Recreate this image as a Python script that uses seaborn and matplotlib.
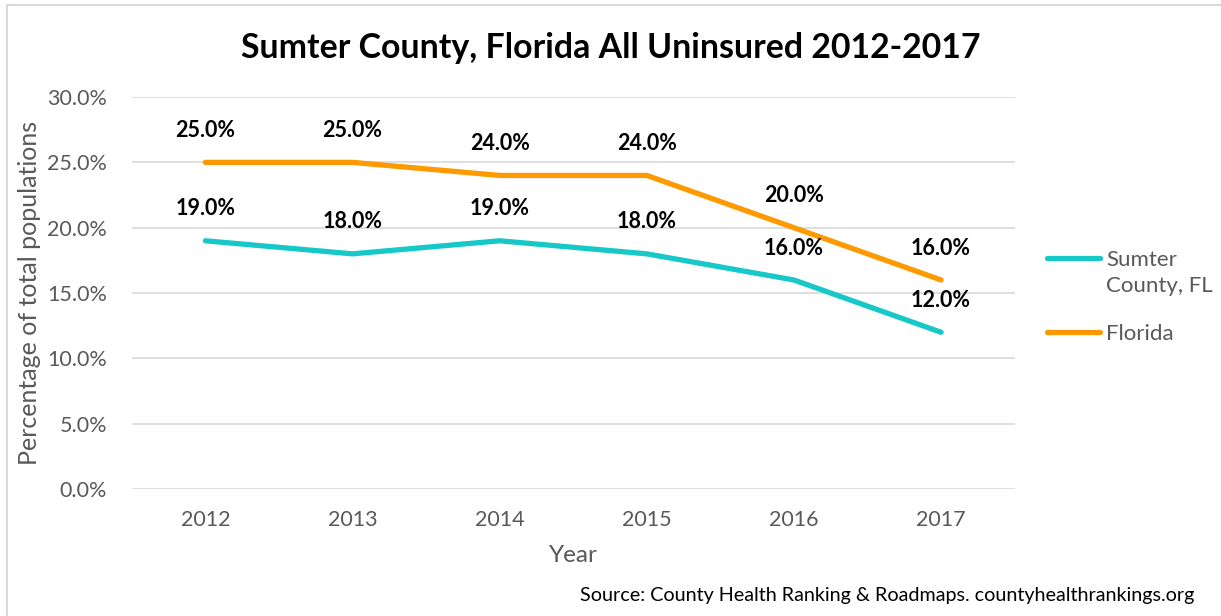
import matplotlib
matplotlib.use("Agg")
import matplotlib.pyplot as plt
import seaborn as sns
import pandas as pd
import numpy as np
from matplotlib.lines import Line2D
from matplotlib.patches import Rectangle
from matplotlib.legend_handler import HandlerLine2D

years = ["2012", "2013", "2014", "2015", "2016", "2017"]
sumter = [19.0, 18.0, 19.0, 18.0, 16.0, 12.0]
florida = [25.0, 25.0, 24.0, 24.0, 20.0, 16.0]
series_names = ["Sumter\nCounty, FL", "Florida"]
yticks = [0, 5, 10, 15, 20, 25, 30]

sns.set_theme(style="white")
plt.rcParams["font.family"] = ["Lato", "DejaVu Sans"]

df = pd.DataFrame({
    "Year": years * 2,
    "Value": sumter + florida,
    "Series": [series_names[0]] * len(years) + [series_names[1]] * len(years),
})

colors = {series_names[0]: "#17C8C8", series_names[1]: "#FF9900"}

fig = plt.figure(figsize=(12.21, 6.16), dpi=100)
ax = fig.add_axes([0.108, 0.206, 0.723, 0.6365])

sns.lineplot(data=df, x="Year", y="Value", hue="Series", palette=colors,
             linewidth=3.8, ax=ax, legend=False, solid_capstyle="round", sort=False)

for name, vals in zip(series_names, [sumter, florida]):
    for i, v in enumerate(vals):
        ax.annotate(f"{v:.1f}%", (i, v), xytext=(0, 23), textcoords="offset points",
                    ha="center", va="center", fontsize=15.5, fontweight="bold", color="black")

ax.set_xlim(-0.5, len(years) - 0.5)
ax.set_ylim(0, 30)
ax.set_yticks(yticks)
ax.set_yticklabels([f"{t:.1f}%" for t in yticks])
ax.grid(axis="y", color="#D9D9D9", linewidth=1.2)
ax.grid(axis="x", visible=False)
for s in ax.spines.values():
    s.set_visible(False)
ax.tick_params(axis="both", length=0, labelsize=15.5, colors="#595959")
ax.tick_params(axis="x", pad=15)
ax.tick_params(axis="y", pad=18)
ax.set_xlabel("Year", fontsize=17.5, color="#595959")
ax.xaxis.set_label_coords(0.5, -0.143)
ax.set_ylabel("Percentage of total populations", fontsize=18, color="#595959")
ax.yaxis.set_label_coords(-0.103, 0.5)


class ShiftedLineHandler(HandlerLine2D):
    def __init__(self, shift=0, **kw):
        super().__init__(**kw)
        self.shift = shift

    def create_artists(self, legend, orig_handle, xdescent, ydescent, width, height, fontsize, trans):
        artists = super().create_artists(legend, orig_handle, xdescent, ydescent, width, height, fontsize, trans)
        for a in artists:
            a.set_ydata(np.asarray(a.get_ydata()) + self.shift)
        return artists


handles = [Line2D([], [], color=colors[n], linewidth=3.8, solid_capstyle="round") for n in series_names]
leg = fig.legend(handles, series_names, loc="upper left", bbox_to_anchor=(0.8575, 0.594),
                 frameon=False, fontsize=16, handlelength=2.4, handletextpad=0.25,
                 labelspacing=1.22, labelcolor="#595959", borderpad=0, borderaxespad=0,
                 handler_map={handles[0]: ShiftedLineHandler(shift=11)})
leg.get_texts()[0].set_linespacing(1.4)

fig.text(0.5, 0.922, "Sumter County, Florida All Uninsured 2012-2017", ha="center", va="center",
         fontsize=24.4, fontweight="bold", color="black")
fig.text(0.978, 0.033, "Source: County Health Ranking & Roadmaps. countyhealthrankings.org",
         ha="right", va="center", fontsize=14.2, color="black")

fig.add_artist(Rectangle((0.006, -0.1), 1.1, 1.092, transform=fig.transFigure,
                         fill=False, edgecolor="#D9D9D9", linewidth=1.5))

fig.savefig("out.png", dpi=100)
